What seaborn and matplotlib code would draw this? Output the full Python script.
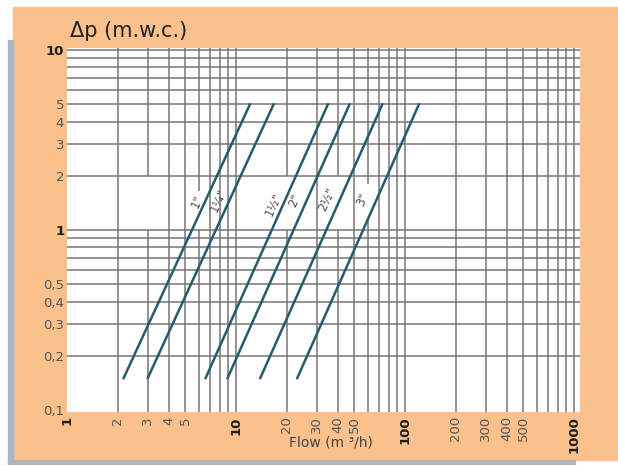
import numpy as np
import pandas as pd
import matplotlib
matplotlib.use('Agg')
import matplotlib.pyplot as plt
import seaborn as sns
from matplotlib.patches import Rectangle
from matplotlib.ticker import FixedLocator, NullLocator

# pipe sizes and their straight lines (log-log)
sizes = ['1"', '1¼"', '1½"', '2"', '2½"', '3"']
flow_min = [2.16, 3.0, 6.6, 8.9, 13.9, 23.0]
flow_max = [12.1, 16.7, 35.0, 47.0, 73.5, 121.0]
dp_min = 0.15
dp_max = 5.0

# where the size labels sit
label_flow = [5.9, 7.9, 16.7, 22.1, 34.6, 56.0]
label_dp = [1.43, 1.46, 1.39, 1.46, 1.48, 1.48]

x_ticks = [1, 2, 3, 4, 5, 10, 20, 30, 40, 50, 100, 200, 300, 400, 500, 1000]
x_labels = ['1', '2', '3', '4', '5', '10', '20', '30', '40', '50',
            '100', '200', '300', '400', '500', '1000']
y_ticks = [0.1, 0.2, 0.3, 0.4, 0.5, 1, 2, 3, 4, 5, 10]
y_labels = ['0,1', '0,2', '0,3', '0,4', '0,5', '1', '2', '3', '4', '5', '10']
bold_x = ['1', '10', '100', '1000']
bold_y = ['1', '10']

rows = []
for s, a, b in zip(sizes, flow_min, flow_max):
    rows.append({'size': s, 'flow': a, 'dp': dp_min})
    rows.append({'size': s, 'flow': b, 'dp': dp_max})
df = pd.DataFrame(rows)

sns.set_theme(style='white')
plt.rcParams['font.family'] = ['DejaVu Sans']

fig = plt.figure(figsize=(6.18, 4.65), dpi=100)
fig.patch.set_facecolor('white')

# page background (scanned look)
fig.patches.append(Rectangle((13/618, 1-460/465), 1-13/618, 453/465,
                             transform=fig.transFigure, color='#fac18d', zorder=-10))
fig.patches.append(Rectangle((8/618, 1-464/465), 5/618, 424/465,
                             transform=fig.transFigure, color='#a9b5c4', zorder=-10))
fig.patches.append(Rectangle((8/618, 1-464/465), 567/618, 4/465,
                             transform=fig.transFigure, color='#b4b4b8', zorder=-10))

ax = fig.add_axes([67/618, 1-412/465, 513/618, 364/465])
ax.set_zorder(1)
ax.set_facecolor('white')
ax.set_xscale('log')
ax.set_yscale('log')
ax.set_xlim(1, 1085)
ax.set_ylim(0.0975, 10.26)

# grid drawn by hand, some verticals broken between 1 and 2
grid_x = [m * 10**d for d in range(3) for m in range(2, 11)]
grid_y = [m * 10**d for d in (-1, 0) for m in range(2, 11)]
gap_x = [3, 20, 40]
gc = '#767676'
for gx in grid_x:
    if gx in gap_x:
        ax.vlines(gx, 0.05, 1.0, color=gc, lw=1.1, zorder=1)
        ax.vlines(gx, 2.0, 20, color=gc, lw=1.1, zorder=1)
    elif gx == 6:
        ax.vlines(gx, 0.05, 1.0, color=gc, lw=1.1, zorder=1)
        ax.vlines(gx, 1.65, 20, color=gc, lw=1.1, zorder=1)
    elif gx == 60:
        ax.vlines(gx, 0.05, 1.15, color=gc, lw=1.1, zorder=1)
        ax.vlines(gx, 1.8, 20, color=gc, lw=1.1, zorder=1)
    else:
        ax.vlines(gx, 0.05, 20, color=gc, lw=1.1, zorder=1)
for gy in grid_y:
    ax.hlines(gy, 0.5, 2000, color=gc, lw=1.1, zorder=1)

sns.lineplot(data=df, x='flow', y='dp', hue='size', units='size', estimator=None,
             palette=['#285a6e'] * len(sizes), lw=1.8, legend=False, ax=ax, zorder=3)

for s, fx, fy in zip(sizes, label_flow, label_dp):
    ax.text(fx, fy, s, rotation=65, ha='center', va='center', fontsize=8.5,
            color='#4d4d4d', rotation_mode='anchor', zorder=4)

for sp in ax.spines.values():
    sp.set_visible(False)

ax.xaxis.set_major_locator(FixedLocator(x_ticks))
ax.xaxis.set_minor_locator(NullLocator())
ax.set_xticklabels(x_labels, rotation=90)
ax.yaxis.set_major_locator(FixedLocator(y_ticks))
ax.yaxis.set_minor_locator(NullLocator())
ax.set_yticklabels(y_labels)
ax.tick_params(axis='both', length=0, labelsize=9.5, colors='#555555')
ax.tick_params(axis='x', pad=3)
ax.tick_params(axis='y', pad=2)
for t in ax.get_xticklabels():
    if t.get_text() in bold_x:
        t.set_fontweight('bold')
        t.set_color('#1e1e1e')
for t in ax.get_yticklabels():
    if t.get_text() in bold_y:
        t.set_fontweight('bold')
        t.set_color('#1e1e1e')
ax.set_xlabel('')
ax.set_ylabel('')

fig.text(70/618, 1-37/465, 'Δp (m.w.c.)', fontsize=15, color='#222222',
         ha='left', va='baseline')
fig.text(331/618, 1-442/465, 'Flow (m ³/h)', fontsize=10, color='#444444',
         ha='center', va='center')

fig.savefig('out.png', dpi=100)
